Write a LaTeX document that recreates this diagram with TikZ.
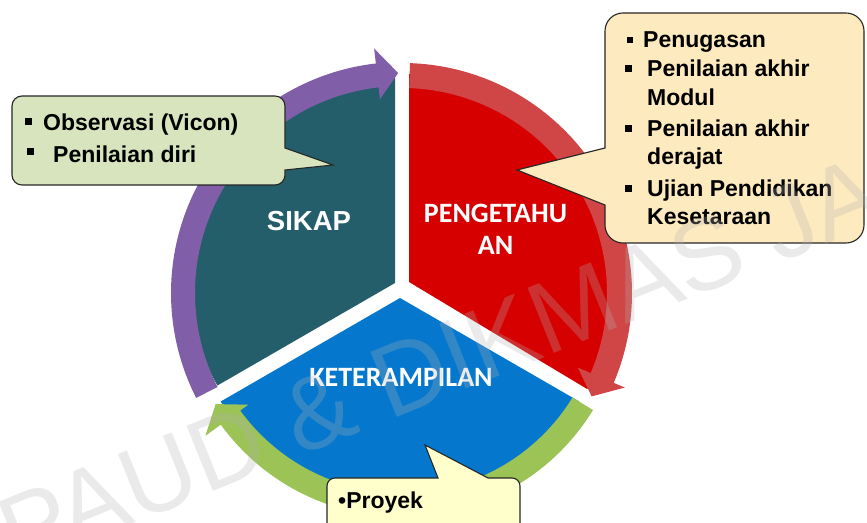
\documentclass[tikz,border=0pt]{standalone}
\usepackage{fontspec}
\setmainfont{Liberation Sans}
\newfontfamily\calfont{Carlito}
\usetikzlibrary{calc}
\definecolor{tealS}{RGB}{37,94,107}
\definecolor{redS}{RGB}{215,0,0}
\definecolor{blueS}{RGB}{5,120,205}
\definecolor{purpleR}{RGB}{128,94,168}
\definecolor{redR}{RGB}{208,70,70}
\definecolor{greenR}{RGB}{155,195,85}
\definecolor{calG}{RGB}{215,228,189}
\definecolor{calY}{RGB}{253,234,191}
\definecolor{calP}{RGB}{255,255,204}
\newcommand{\ringarrow}[9]{%
  \fill[#1] ($(O)+(#2:#5)$) arc[start angle=#2,end angle=#3,radius=#5]
    -- ($(O)+(#3:#7)$) -- ($(O)+(#4:#9)$) -- ($(O)+(#3:#8)$)
    -- ($(O)+(#3:#6)$) arc[start angle=#3,end angle=#2,radius=#6] -- cycle;}
\begin{document}
\begin{tikzpicture}[x=1pt,y=1pt,
  callout/.style={draw=black!85,line width=1.1pt},
  seclabel/.style={text=white,font=\calfont\bfseries\fontsize{28}{32}\selectfont,inner sep=0pt,align=center},
  ctext/.style={text=black,font=\bfseries\fontsize{23}{27}\selectfont,inner sep=0pt,anchor=base west},
  sqbul/.style={rectangle,fill=black,minimum size=7pt,inner sep=0pt},
  wmark/.style={text=gray!60,opacity=0.27,font=\fontsize{102}{102}\selectfont,inner sep=0pt}]
\useasboundingbox (0,0) rectangle (867,522);
\fill[white] (0,0) rectangle (867,522);
\coordinate (O) at (402,229);
% sectors
\coordinate (tv) at (395,239);
\fill[tealS] (tv) -- ++(90:205) arc[start angle=90,end angle=210,radius=205] -- cycle;
\coordinate (rv) at (409,240);
\fill[redS] (rv) -- ++(90:208) arc[start angle=90,end angle=-31,radius=208] -- cycle;
\coordinate (bv) at (400,224);
\fill[blueS] (bv) -- ++(210:207) arc[start angle=210,end angle=330,radius=207] -- cycle;
% ring arrows
\ringarrow{purpleR}{207}{96.5}{91}{207}{231}{195}{246}{220}
\ringarrow{redR}{88}{-23}{-28.6}{205}{230}{191}{242}{216}
\ringarrow{greenR}{-31.5}{-144}{-149.2}{200}{224}{190}{243}{217}
% sector labels
\node[text=white,font=\bfseries\fontsize{27.5}{32}\selectfont,inner sep=0pt] (sikap) at (309,301) {SIKAP};
\node[seclabel] (peng) at (495.5,293) {PENGETAHU\\AN};
\node[seclabel] (ket) at (401,145) {KETERAMPILAN};
% left callout
\path[callout,fill=calG] (22,426) -- (275,426) arc[start angle=90,end angle=0,radius=10]
  -- (285,374) -- (333,357) -- (285,352) -- (285,347) arc[start angle=0,end angle=-90,radius=10]
  -- (22,337) arc[start angle=270,end angle=180,radius=10] -- (12,416) arc[start angle=180,end angle=90,radius=10] -- cycle;
\node[sqbul] (lb1) at (28,400) {};
\node[sqbul] (lb2) at (30,370) {};
\node[ctext] (lt1) at (43,391) {Observasi (Vicon)};
\node[ctext] (lt2) at (53,359) {Penilaian diri};
% right callout
\path[callout,fill=calY] (623,509) -- (846,509) arc[start angle=90,end angle=0,radius=18]
  -- (864,297) arc[start angle=0,end angle=-90,radius=18] -- (623,279) arc[start angle=270,end angle=180,radius=18]
  -- (605,317) -- (517,352) -- (605,374) -- (605,491) arc[start angle=180,end angle=90,radius=18] -- cycle;
\node[sqbul,minimum size=5.5pt] (rb1) at (630,482) {};
\node[sqbul] (rb2) at (628,453) {};
\node[sqbul] (rb3) at (628,393) {};
\node[sqbul] (rb4) at (628,333) {};
\node[ctext] (rt1) at (643,474) {Penugasan};
\node[ctext] (rt2) at (647,445) {Penilaian akhir};
\node[ctext] (rt3) at (647,416) {Modul};
\node[ctext] (rt4) at (647,385) {Penilaian akhir};
\node[ctext] (rt5) at (647,357) {derajat};
\node[ctext] (rt6) at (647,325) {Ujian Pendidikan};
\node[ctext] (rt7) at (647,297) {Kesetaraan};
% bottom callout
\path[callout,fill=calP] (327,-10) -- (327,36) arc[start angle=180,end angle=90,radius=8]
  -- (438,44) -- (425,77) -- (488,44) -- (512,44) arc[start angle=90,end angle=0,radius=8] -- (520,-10) -- cycle;
\node[ctext] (bt1) at (338,14) {•Proyek};
% watermark
\begin{scope}
\clip (0,0) rectangle (867,522);
\node[wmark,rotate=22] (wm) at (440,160) {PAUD \& DIKMAS JA};
\end{scope}
\end{tikzpicture}
\end{document}
